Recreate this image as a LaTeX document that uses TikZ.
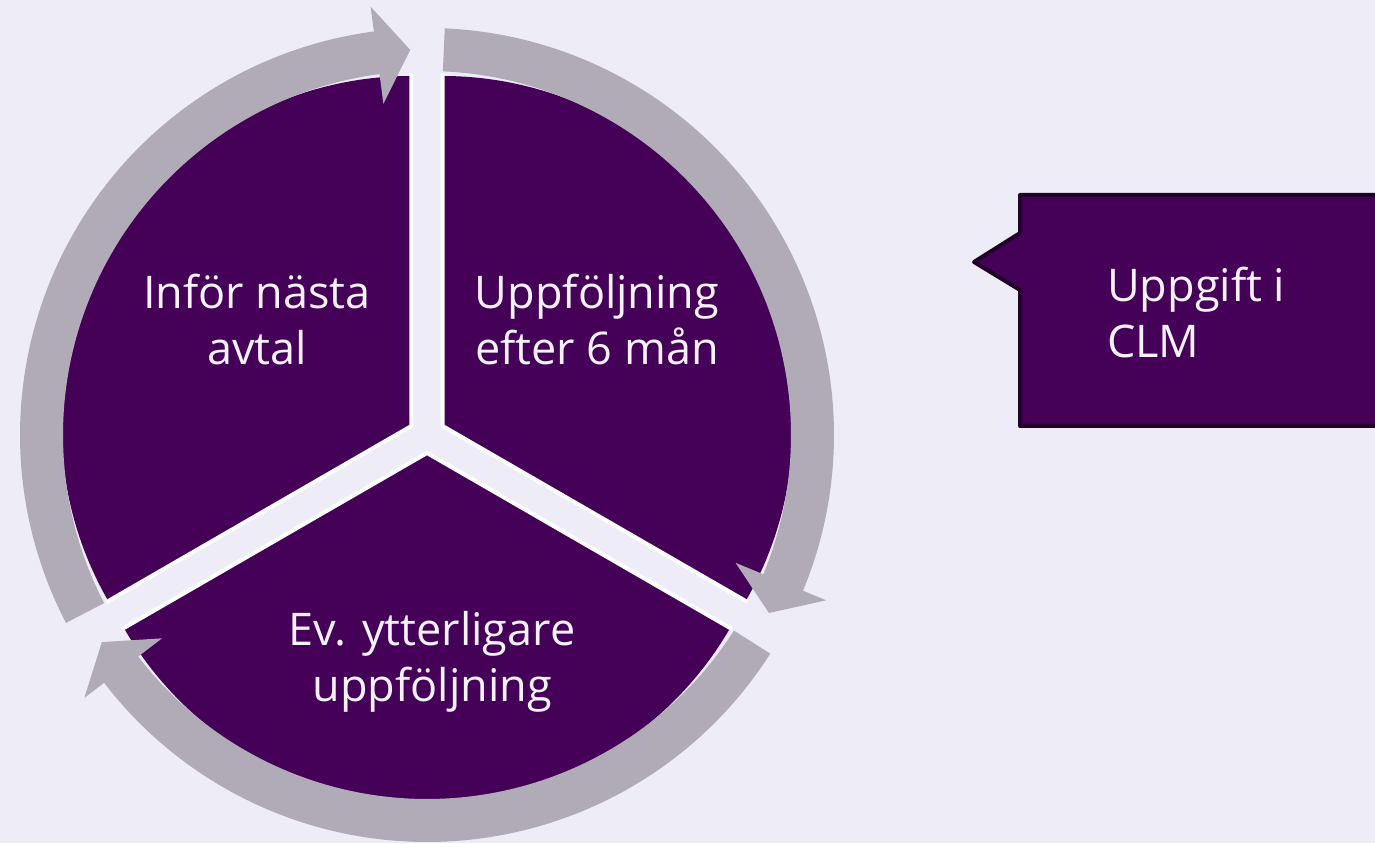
\documentclass[tikz,border=0pt]{standalone}
\usepackage{fontspec}
\setmainfont{Open Sans}
\usetikzlibrary{calc}
\definecolor{bg}{HTML}{EEECF6}
\definecolor{ringc}{HTML}{B0ABB7}
\definecolor{pur}{HTML}{450057}
\definecolor{edgec}{HTML}{21002A}
\definecolor{txt}{HTML}{F3F1FA}
\begin{document}
\begin{tikzpicture}[x=1pt,y=1pt,
  sector/.style={fill=pur},
  sedge/.style={draw=white, line width=4pt, line join=miter},
  band/.style={fill=ringc},
  lbl/.style={text=txt, font=\fontsize{45}{56}\selectfont, align=center, inner sep=0pt},
  callout/.style={fill=pur, draw=edgec, line width=4pt, line join=round}]
\useasboundingbox (0,0) rectangle (1375,843);
\clip (0,0) rectangle (1375,843);
\fill[bg] (0,0) rectangle (1375,843);
\coordinate (C) at (427,408);
\coordinate (A1) at ($(C)+(150:18)$);
\coordinate (A2) at ($(C)+(30:18)$);
\coordinate (A3) at ($(C)+(270:18)$);
% sectors
\path[sector] (A1) -- ++(90:350) arc[start angle=90,end angle=210,radius=350] -- cycle;
\path[sector] (A2) -- ++(-30:350) arc[start angle=-30,end angle=90,radius=350] -- cycle;
\path[sector] (A3) -- ++(210:350) arc[start angle=210,end angle=330,radius=350] -- cycle;
\draw[sedge] ($(A1)+(90:352)$) -- (A1) -- ($(A1)+(210:352)$);
\draw[sedge] ($(A2)+(-30:352)$) -- (A2) -- ($(A2)+(90:352)$);
\draw[sedge] ($(A3)+(210:352)$) -- (A3) -- ($(A3)+(330:352)$);
% circular arrows
\begin{scope}[shift={(C)}]
\fill[band] (207.5:407) arc[start angle=207.5,end angle=97.5,radius=407] -- (97.5:432) -- (92.5:385.5) -- (97.5:334) -- (97.5:364) arc[start angle=97.5,end angle=207.5,radius=364] -- cycle;
\fill[band] (87.5:407) arc[start angle=87.5,end angle=-22.5,radius=407] -- (-22.5:432) -- (-27.5:385.5) -- (-22.5:334) -- (-22.5:364) arc[start angle=-22.5,end angle=87.5,radius=364] -- cycle;
\fill[band] (-32.5:407) arc[start angle=-32.5,end angle=-142.5,radius=407] -- (-142.5:432) -- (-147.5:385.5) -- (-142.5:334) -- (-142.5:364) arc[start angle=-142.5,end angle=-32.5,radius=364] -- cycle;
\end{scope}
% labels
\node[lbl] (tl) at (257,523) {Inför nästa\\avtal};
\node[lbl] (tr) at (597,523) {Uppföljning\\efter 6 mån};
\node[lbl] (bt) at (432,181) {Ev. ytterligare\\uppföljning};
% callout
\path[callout] (1395,648) -- (1020,648) -- (1020,610) -- (974,581) -- (1020,553) -- (1020,417) -- (1395,417) -- cycle;
\node[lbl, align=left, anchor=west] (cl) at (1107,530) {Uppgift i\\CLM};
\end{tikzpicture}
\end{document}
